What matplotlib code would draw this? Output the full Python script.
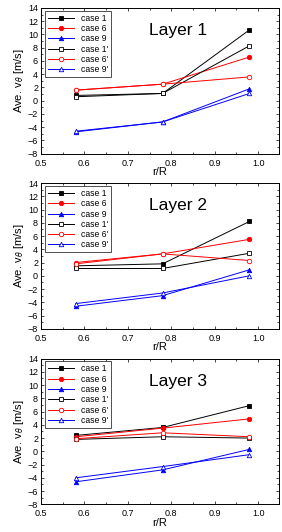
import numpy as np
import matplotlib
matplotlib.use("Agg")
import matplotlib.pyplot as plt
from matplotlib.ticker import MultipleLocator

plt.rcParams['font.family'] = ['Liberation Sans', 'DejaVu Sans']

r_R = [0.58, 0.78, 0.98]
case_labels = ["case 1", "case 6", "case 9", "case 1'", "case 6'", "case 9'"]

# layer -> values per case, order as case_labels
layer1 = [
    [0.8, 1.1, 10.7],
    [1.6, 2.5, 6.6],
    [-4.7, -3.2, 1.8],
    [0.6, 1.1, 8.3],
    [1.6, 2.5, 3.6],
    [-4.6, -3.2, 1.1],
]
layer2 = [
    [1.5, 1.8, 8.2],
    [2.0, 3.3, 5.5],
    [-4.6, -3.0, 0.9],
    [1.1, 1.1, 3.4],
    [1.8, 3.3, 2.3],
    [-4.2, -2.6, 0.0],
]
layer3 = [
    [2.4, 3.6, 6.9],
    [2.2, 3.5, 4.9],
    [-4.6, -2.8, 0.3],
    [1.8, 2.2, 2.0],
    [1.9, 2.8, 2.2],
    [-4.0, -2.3, -0.5],
]
layers = [layer1, layer2, layer3]
layer_names = ["Layer 1", "Layer 2", "Layer 3"]

colors = ['black', 'red', 'blue', 'black', 'red', 'blue']
markers = ['s', 'o', '^', 's', 'o', '^']
filled = [True, True, True, False, False, False]

fig = plt.figure(figsize=(2.82, 5.32), dpi=100)
bottoms = [0.711, 0.382, 0.052]
height = 0.274

for i, data in enumerate(layers):
    ax = fig.add_axes([0.145, bottoms[i], 0.843, height])
    for j, vals in enumerate(data):
        ax.plot(r_R, vals, color=colors[j], marker=markers[j], markersize=3.2,
                linewidth=0.7, markeredgewidth=0.6,
                markerfacecolor=colors[j] if filled[j] else 'white',
                label=case_labels[j])
    ax.set_xlim(0.5, 1.047)
    ax.set_ylim(-8, 14)
    ax.xaxis.set_major_locator(MultipleLocator(0.1))
    ax.xaxis.set_minor_locator(MultipleLocator(0.05))
    ax.yaxis.set_major_locator(MultipleLocator(2))
    ax.yaxis.set_minor_locator(MultipleLocator(1))
    ax.tick_params(which='both', direction='in', top=True, right=True,
                   labelsize=6.5, width=0.5)
    ax.tick_params(axis='x', pad=3.5)
    ax.tick_params(axis='y', pad=2)
    ax.tick_params(which='major', length=2.5)
    ax.tick_params(which='minor', length=1.5)
    for s in ax.spines.values():
        s.set_linewidth(0.7)
    ax.set_xlabel("r/R", fontsize=8, labelpad=-0.5)
    ax.set_ylabel(r"Ave. v$_\theta$ [m/s]", fontsize=8, labelpad=1)
    ax.text(0.576, 0.846, layer_names[i], transform=ax.transAxes,
            fontsize=12.5, ha='center', va='center')
    leg = ax.legend(loc='upper left', bbox_to_anchor=(0.017, 0.98),
                    fontsize=6.2, frameon=True, fancybox=False,
                    edgecolor='black', handlelength=3.0, handletextpad=0.8,
                    labelspacing=0.15, borderpad=0.35, borderaxespad=0)
    leg.get_frame().set_linewidth(0.6)

fig.savefig("out.png", dpi=100)
